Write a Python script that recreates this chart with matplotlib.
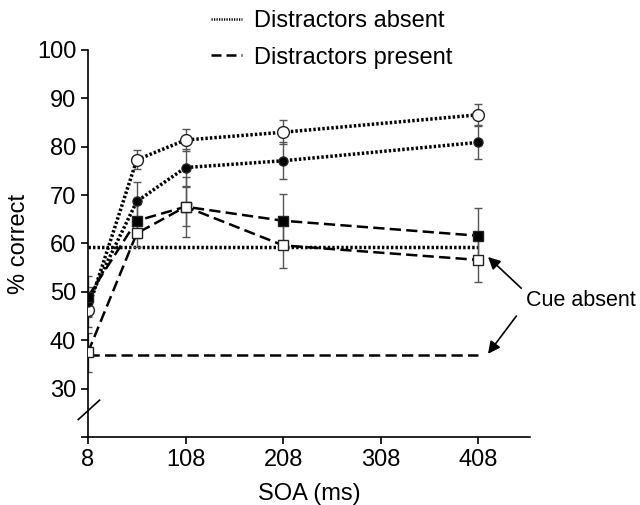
import matplotlib
matplotlib.use("Agg")
import matplotlib.pyplot as plt
from matplotlib.lines import Line2D

plt.rcParams['font.family'] = ['Liberation Sans', 'DejaVu Sans']

# SOA values (ms)
soa = [8, 58, 108, 208, 408]

# distractors absent
absent_open = [46.3, 77.3, 81.4, 83.0, 86.6]
absent_open_err = [3.5, 2.0, 2.3, 2.5, 2.2]
absent_filled = [48.0, 68.7, 75.7, 77.1, 80.9]
absent_filled_err = [3.0, 4.1, 3.8, 3.8, 3.4]

# distractors present
present_filled = [49.0, 64.7, 67.6, 64.7, 61.6]
present_filled_err = [4.2, 3.5, 4.0, 5.5, 5.7]
present_open = [37.5, 62.1, 67.6, 59.6, 56.6]
present_open_err = [4.0, 2.8, 6.2, 4.7, 4.5]

# cue absent baselines
cue_absent_x = [8, 408]
cue_absent_nodist = [59.2, 59.2]
cue_absent_dist = [37.0, 37.0]

xticks = [8, 108, 208, 308, 408]
yticks = [20, 30, 40, 50, 60, 70, 80, 90, 100]
ylabels = ['', '30', '40', '50', '60', '70', '80', '90', '100']

dotted = (0, (0.7, 0.6))
dashed = (0, (4.5, 2.1))
errc = '#555555'
fs = 17

fig = plt.figure(figsize=(6.4, 5.05), dpi=100)
ax = fig.add_axes([0.1375, 0.1347, 0.6906, 0.7663])

ax.plot(cue_absent_x, cue_absent_nodist, color='black', lw=2.5, linestyle=dotted)
ax.plot(cue_absent_x, cue_absent_dist, color='black', lw=1.8, linestyle=dashed)

series = [
    (absent_open, absent_open_err, dotted, 2.5, 'o', 'white', 8.5),
    (absent_filled, absent_filled_err, dotted, 2.5, 'o', 'black', 6.5),
    (present_filled, present_filled_err, dashed, 1.8, 's', 'black', 6.5),
    (present_open, present_open_err, dashed, 1.8, 's', 'white', 7.5),
]
for y, e, ls, lw, mk, fc, ms in series:
    ax.errorbar(soa, y, yerr=e, fmt='none', ecolor=errc, elinewidth=1,
                capsize=3, capthick=1, zorder=2)
    ax.plot(soa, y, color='black', lw=lw, linestyle=ls, marker=mk,
            markerfacecolor=fc, markeredgecolor='#222222', markeredgewidth=1,
            markersize=ms, zorder=3)

ax.set_xlim(8, 461)
ax.set_ylim(20, 100)
ax.set_xticks(xticks)
ax.set_yticks(yticks)
ax.set_yticklabels(ylabels)
ax.tick_params(labelsize=fs, width=1.2, length=5, direction='out')
for s in ['top', 'right']:
    ax.spines[s].set_visible(False)
for s in ['left', 'bottom']:
    ax.spines[s].set_linewidth(1.2)
ax.set_xlabel('SOA (ms)', fontsize=fs, labelpad=9)
ax.set_ylabel('% correct', fontsize=fs, labelpad=5)

# axis break mark
ax.plot([-0.022, 0.026], [0.045, 0.095], transform=ax.transAxes,
        color='black', lw=1.2, clip_on=False)

# cue absent annotation
ax.annotate('Cue absent', xy=(418, 57.2), xytext=(457, 48.3), fontsize=15.5,
            va='center', ha='left',
            arrowprops=dict(arrowstyle='-|>', color='black', lw=1.2,
                            shrinkA=2, shrinkB=0, mutation_scale=18,
                            relpos=(0.0, 0.85)))
ax.annotate('', xy=(418, 37.2), xytext=(447, 45.0),
            arrowprops=dict(arrowstyle='-|>', color='black', lw=1.2,
                            shrinkA=0, shrinkB=0, mutation_scale=18))

handles = [Line2D([], [], color='black', lw=1.8, linestyle=(0, (0.5, 0.5))),
           Line2D([], [], color='black', lw=1.8, linestyle=(0, (4, 2)))]
fig.legend(handles, ['Distractors absent', 'Distractors present'],
           loc='upper left', bbox_to_anchor=(0.304, 1.012), frameon=False,
           fontsize=fs, handlelength=1.3, handletextpad=0.5,
           labelspacing=0.6, borderpad=0.2)

fig.savefig('out.png', dpi=100)
